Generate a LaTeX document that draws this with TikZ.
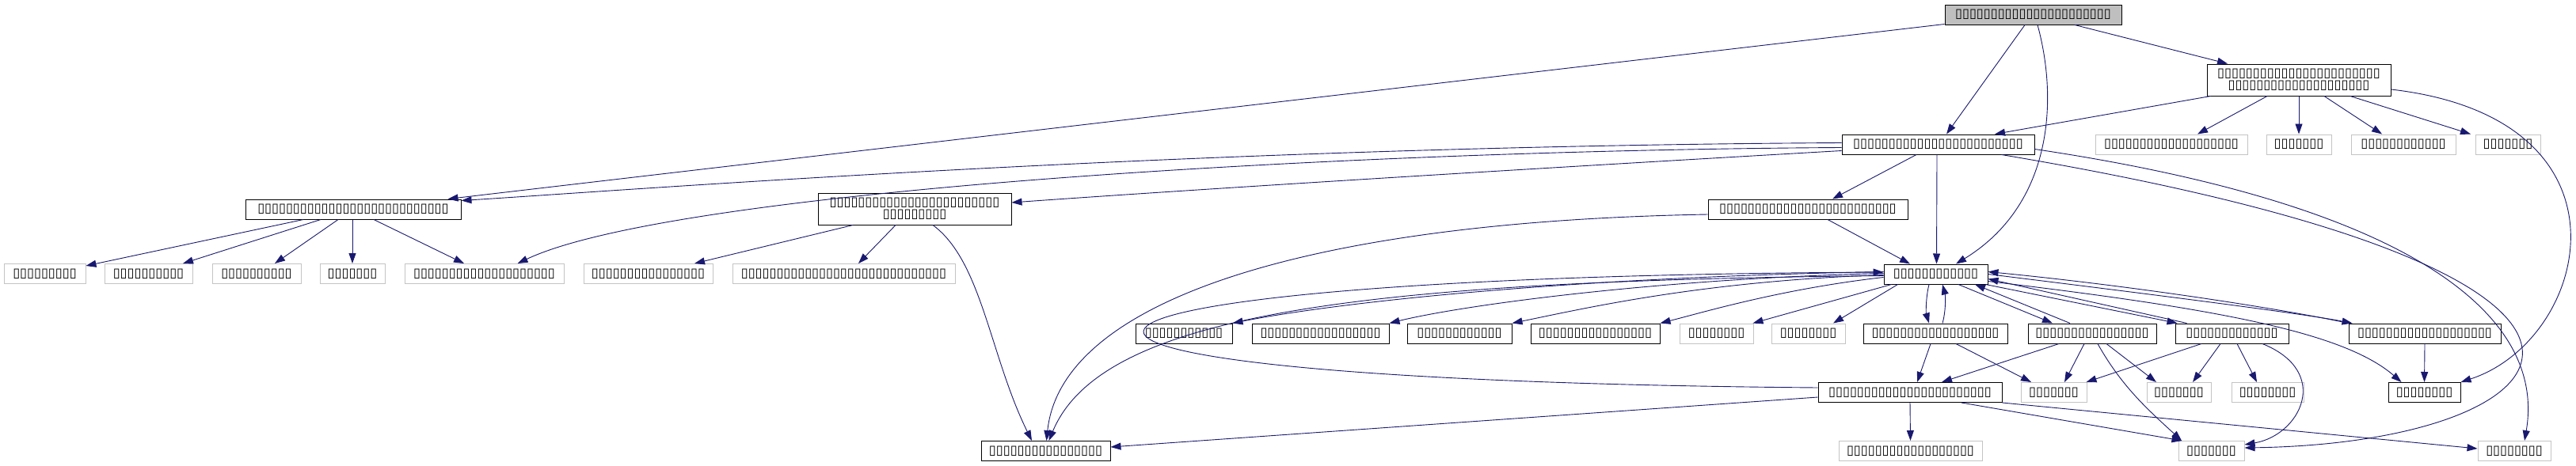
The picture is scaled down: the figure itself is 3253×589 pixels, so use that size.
\documentclass[tikz,border=0pt]{standalone}
\usepackage{fontspec}
\usetikzlibrary{arrows.meta}
\newfontfamily\tofu{DejaVu Sans}
\definecolor{edgeblue}{HTML}{191970}
\definecolor{nodegray}{HTML}{BFBFBF}
\definecolor{lightframe}{HTML}{C4C4C4}
\begin{document}
\begin{tikzpicture}[x=1pt,y=-1pt]
\tikzset{
  base/.style={draw, line width=1pt, minimum height=25pt, inner sep=0pt, align=center, text=black,
    font={\tofu\fontsize{16.25pt}{14.5pt}\selectfont}},
  blk/.style={base, draw=black},
  gry/.style={base, draw=lightframe},
  conn/.style={draw=edgeblue, line width=0.9pt, -{Triangle[length=13pt,width=9pt]}},
}
\fill[white] (0,0) rectangle (3253,589);
\useasboundingbox (0,0) rectangle (3253,589);
% ---- nodes
\node[blk, fill=nodegray, minimum width=223pt] (root) at (2567.5,18.5) {▯▯▯▯▯▯▯▯▯▯▯▯▯▯▯▯▯▯▯▯▯▯};
\node[blk, minimum width=232pt, minimum height=40pt] (n2) at (2903,101) {▯▯▯▯▯▯▯▯▯▯▯▯▯▯▯▯▯▯▯▯▯▯▯\\▯▯▯▯▯▯▯▯▯▯▯▯▯▯▯▯▯▯▯▯};
\node[blk, minimum width=243pt] (n3) at (2447.5,182.5) {▯▯▯▯▯▯▯▯▯▯▯▯▯▯▯▯▯▯▯▯▯▯▯▯};
\node[gry, minimum width=192pt] (n4) at (2742,182.5) {▯▯▯▯▯▯▯▯▯▯▯▯▯▯▯▯▯▯▯};
\node[gry, minimum width=82pt] (n5) at (2903,182.5) {▯▯▯▯▯▯▯};
\node[gry, minimum width=132pt] (n6) at (3035,182.5) {▯▯▯▯▯▯▯▯▯▯▯▯};
\node[gry, minimum width=82pt] (n7) at (3167,182.5) {▯▯▯▯▯▯▯};
\node[blk, minimum width=272pt] (n8) at (446,264.5) {▯▯▯▯▯▯▯▯▯▯▯▯▯▯▯▯▯▯▯▯▯▯▯▯▯▯▯};
\node[blk, minimum width=244pt, minimum height=40pt] (n9) at (1155,264) {▯▯▯▯▯▯▯▯▯▯▯▯▯▯▯▯▯▯▯▯▯▯▯▯\\▯▯▯▯▯▯▯▯▯};
\node[blk, minimum width=252pt] (n10) at (2283,264.5) {▯▯▯▯▯▯▯▯▯▯▯▯▯▯▯▯▯▯▯▯▯▯▯▯▯};
\node[gry, minimum width=103pt] (c1) at (56.5,346) {▯▯▯▯▯▯▯▯▯};
\node[gry, minimum width=111pt] (c2) at (187.5,346) {▯▯▯▯▯▯▯▯▯▯};
\node[gry, minimum width=112pt] (c3) at (324,346) {▯▯▯▯▯▯▯▯▯▯};
\node[gry, minimum width=82pt] (c4) at (445,346) {▯▯▯▯▯▯▯};
\node[gry, minimum width=201pt] (c5) at (611.5,346) {▯▯▯▯▯▯▯▯▯▯▯▯▯▯▯▯▯▯▯▯};
\node[gry, minimum width=163pt] (c6) at (818.5,346) {▯▯▯▯▯▯▯▯▯▯▯▯▯▯▯▯};
\node[gry, minimum width=281pt] (c7) at (1065.5,346) {▯▯▯▯▯▯▯▯▯▯▯▯▯▯▯▯▯▯▯▯▯▯▯▯▯▯▯▯▯};
\node[blk, minimum width=131pt] (n11) at (2444.5,346.5) {▯▯▯▯▯▯▯▯▯▯▯▯};
% row 2
\node[blk, minimum width=122pt] (ra) at (1495,421.5) {▯▯▯▯▯▯▯▯▯▯▯};
\node[blk, minimum width=173pt] (rb) at (1667.5,421.5) {▯▯▯▯▯▯▯▯▯▯▯▯▯▯▯▯▯};
\node[blk, minimum width=132pt] (rc) at (1843,421.5) {▯▯▯▯▯▯▯▯▯▯▯▯};
\node[blk, minimum width=163pt] (rd) at (2014.5,421.5) {▯▯▯▯▯▯▯▯▯▯▯▯▯▯▯▯};
\node[gry, minimum width=93pt] (re) at (2167.5,421.5) {▯▯▯▯▯▯▯▯};
\node[gry, minimum width=93pt] (rf) at (2283.5,421.5) {▯▯▯▯▯▯▯▯};
\node[blk, minimum width=182pt] (rg) at (2444,421.5) {▯▯▯▯▯▯▯▯▯▯▯▯▯▯▯▯▯▯};
\node[blk, minimum width=162pt] (rh) at (2642,421.5) {▯▯▯▯▯▯▯▯▯▯▯▯▯▯▯▯};
\node[blk, minimum width=143pt] (ri) at (2818.5,421.5) {▯▯▯▯▯▯▯▯▯▯▯▯▯};
\node[blk, minimum width=192pt] (rj) at (3062,421.5) {▯▯▯▯▯▯▯▯▯▯▯▯▯▯▯▯▯▯▯};
% row 3
\node[blk, minimum width=232pt] (sk) at (2412,496) {▯▯▯▯▯▯▯▯▯▯▯▯▯▯▯▯▯▯▯▯▯▯▯};
\node[gry, minimum width=83pt] (sl) at (2593.5,496) {▯▯▯▯▯▯▯};
\node[gry, minimum width=81pt] (sm) at (2751.5,496) {▯▯▯▯▯▯▯};
\node[gry, minimum width=91pt] (sn) at (2863.5,496) {▯▯▯▯▯▯▯▯};
\node[blk, minimum width=91pt] (so) at (3061.5,496) {▯▯▯▯▯▯▯▯};
% row 4
\node[gry, minimum width=181pt] (tp) at (2412.5,570) {▯▯▯▯▯▯▯▯▯▯▯▯▯▯▯▯▯▯};
\node[gry, minimum width=83pt] (tq) at (2792.5,570) {▯▯▯▯▯▯▯};
\node[gry, minimum width=92pt] (tr) at (3175,570) {▯▯▯▯▯▯▯▯};
\node[blk, minimum width=163pt] (ts) at (1320.5,570) {▯▯▯▯▯▯▯▯▯▯▯▯▯▯▯▯};
% ---- edges from root
\draw[conn] ([yshift=1pt]root.south west) -- ([xshift=-17pt]n8.north east);
\draw[conn] ([xshift=-10.5pt]root.south) -- ([xshift=10.5pt]n3.north);
\draw[conn] ([xshift=5.5pt]root.south) .. controls (2600,130) and (2590,260) .. ([xshift=25.5pt]n11.north);
\draw[conn] ([xshift=52.5pt]root.south) -- ([xshift=-90pt]n2.north);
% from n2
\draw[conn] ([xshift=5pt]n2.south west) -- ([xshift=71.5pt]n3.north);
\draw[conn] ([xshift=-40pt]n2.south) -- ([xshift=33pt]n4.north);
\draw[conn] (n2.south) -- (n5.north);
\draw[conn] ([xshift=32pt]n2.south) -- ([xshift=-27pt]n6.north);
\draw[conn] ([xshift=65pt]n2.south) -- ([xshift=-47pt]n7.north);
\draw[conn] ([yshift=-12pt]n2.east) .. controls (3340,150) and (3270,430) .. (so.north east);
% from n3
\draw[conn] ([yshift=2pt]n3.west) .. controls (1500,185) and (800,240) .. ([yshift=-2pt]n8.north east);
\draw[conn] ([yshift=-4pt]n3.west) .. controls (1700,190) and (850,240) .. ([xshift=42pt]c5.north);
\draw[conn] ([yshift=-8pt]n3.west) .. controls (1900,215) and (1500,240) .. ([yshift=8pt]n9.east);
\draw[conn] ([xshift=-27.5pt]n3.south) -- ([xshift=31pt]n10.north);
\draw[conn] ([xshift=-1.5pt]n3.south) -- ([xshift=1pt]n11.north);
\draw[conn] ([xshift=80pt]n3.south) .. controls (3450,350) and (3250,560) .. ([yshift=4pt]tq.east);
\draw[conn] ([yshift=-6pt]n3.east) .. controls (3050,260) and (3215,400) .. ([xshift=13pt]tr.north);
% from n8
\draw[conn] ([xshift=-63pt]n8.south) -- ([yshift=-3pt]c1.north east);
\draw[conn] ([xshift=-41pt]n8.south) -- ([xshift=43.5pt]c2.north);
\draw[conn] ([xshift=-19pt]n8.south) -- ([xshift=23pt]c3.north);
\draw[conn] ([xshift=-1pt]n8.south) -- (c4.north);
\draw[conn] ([xshift=26pt]n8.south) -- ([xshift=-25.5pt]c5.north);
% from n9
\draw[conn] ([xshift=-78pt]n9.south) -- ([xshift=58.5pt]c6.north);
\draw[conn] ([xshift=-24pt]n9.south) -- ([xshift=18.5pt]c7.north);
\draw[conn] ([xshift=23pt]n9.south) .. controls (1240,330) and (1250,450) .. ([xshift=-17.5pt]ts.north);
% from n10
\draw[conn] ([xshift=25pt]n10.south) -- ([xshift=-32.5pt]n11.north);
\draw[conn] ([yshift=-6.5pt]n10.west) .. controls (1650,280) and (1340,380) .. ([xshift=1pt]ts.north);
% from n11
\draw[conn] ([yshift=-2pt]n11.west) .. controls (1700,355) and (1390,400) .. ([xshift=4pt]ts.north);
\draw[conn] ([yshift=3pt]n11.west) .. controls (2000,350) and (1700,380) .. (ra.north east);
\draw[conn] ([yshift=1pt]n11.west) .. controls (2100,352) and (1850,385) .. (rb.north east);
\draw[conn] ([yshift=-1pt]n11.west) .. controls (2150,355) and (2000,390) .. (rc.north east);
\draw[conn] ([yshift=-4pt]n11.west) .. controls (2250,365) and (2150,395) .. (rd.north east);
\draw[conn] ([xshift=10pt]n11.south west) -- ([xshift=-1pt]re.north east);
\draw[conn] ([xshift=18pt]n11.south west) -- ([xshift=31.5pt]rf.north);
\draw[conn] ([xshift=-8.5pt]n11.south) .. controls (2432,375) and (2432,395) .. ([xshift=-8pt]rg.north);
\draw[conn] ([xshift=9pt]rg.north) .. controls (2457,395) and (2457,375) .. ([xshift=8.5pt]n11.south);
\draw[conn] ([xshift=28.5pt]n11.south) -- ([xshift=-50pt]rh.north);
\draw[conn] ([xshift=-28pt]rh.north) -- ([xshift=49.5pt]n11.south);
\draw[conn] ([xshift=-3pt]n11.south east) -- ([xshift=3pt]ri.north west);
\draw[conn] ([xshift=15pt]ri.north west) -- ([yshift=-6pt]n11.east);
\draw[conn] (n11.east) .. controls (2700,370) and (2900,395) .. ([xshift=5pt]rj.north west);
\draw[conn] (rj.north west) .. controls (2890,392) and (2700,362) .. ([yshift=3pt]n11.east);
\draw[conn] ([yshift=-9pt]n11.east) .. controls (2800,390) and (2960,420) .. ([xshift=17pt]so.north west);
\draw[conn] (rj.south) -- (so.north);
% row 2 to row 3/4
\draw[conn] ([xshift=-6pt]rg.south) -- ([xshift=9pt]sk.north);
\draw[conn] ([xshift=26pt]rg.south) -- ([xshift=-28.5pt]sl.north);
\draw[conn] ([xshift=-42pt]rh.south) -- ([xshift=40pt]sk.north);
\draw[conn] ([xshift=-10pt]rh.south) -- ([xshift=13.5pt]sl.north);
\draw[conn] ([xshift=18pt]rh.south) -- ([xshift=-28.5pt]sm.north);
\draw[conn] ([xshift=7pt]rh.south) .. controls (2680,490) and (2715,520) .. ([xshift=-37.5pt]tq.north);
\draw[conn] ([xshift=-38.5pt]ri.south) -- ([xshift=-1pt]sl.north east);
\draw[conn] ([xshift=-14.5pt]ri.south) -- ([xshift=17.5pt]sm.north);
\draw[conn] ([xshift=6.5pt]ri.south) -- ([xshift=-13.5pt]sn.north);
\draw[conn] ([xshift=38.5pt]ri.south) .. controls (2945,470) and (2905,550) .. ([yshift=8pt]tq.east);
% from k
\draw[conn] (sk.south) -- (tp.north);
\draw[conn] ([xshift=65pt]sk.south) -- ([xshift=5pt]tq.north west);
\draw[conn] (sk.south east) -- ([yshift=3pt]tr.west);
\draw[conn] ([yshift=-6pt]sk.west) -- ([yshift=5pt]ts.east);
\draw[conn] ([yshift=6pt]sk.west) .. controls (1100,480) and (1200,350) .. ([yshift=2.5pt]n11.west);
\end{tikzpicture}
\end{document}
